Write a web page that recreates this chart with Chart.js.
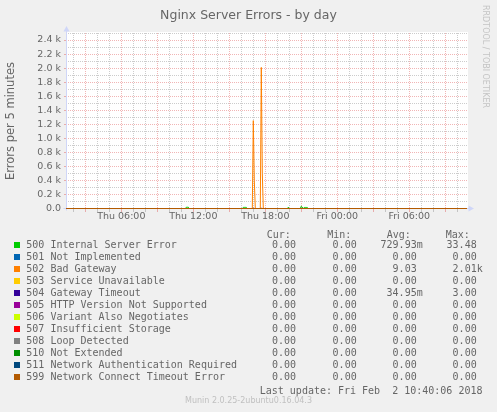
<!DOCTYPE html>
<html><head><meta charset="utf-8">
<script src="https://cdn.jsdelivr.net/npm/chart.js@4/dist/chart.umd.min.js"></script>
<style>
html,body{margin:0;padding:0;background:#F0F0F0;}
#wrap{position:relative;width:497px;height:412px;overflow:hidden;background:#F0F0F0;}
#c{position:absolute;left:0;top:0;}
.t{position:absolute;white-space:pre;color:#666;font-family:"DejaVu Sans Mono",monospace;font-size:10px;line-height:12px;}
.sw{position:absolute;width:6px;height:6px;}
#title{position:absolute;left:0;top:6.5px;width:497px;text-align:center;font-family:"DejaVu Sans",sans-serif;font-size:12.5px;line-height:15px;color:#666;}
#rrd{position:absolute;left:480px;top:5px;width:10px;writing-mode:vertical-rl;font-family:"DejaVu Sans",sans-serif;font-size:8px;line-height:10px;color:#c4c4c4;white-space:pre;}
#foot{position:absolute;left:0;top:396px;width:497px;text-align:center;font-family:"DejaVu Sans",sans-serif;font-size:8px;line-height:10px;color:#c0c0c0;}
</style></head><body>
<div id="wrap">
<canvas id="c" width="497" height="412" style="width:497px;height:412px"></canvas>
<div id="title">Nginx Server Errors - by day</div>
<div id="rrd">RRDTOOL / TOBI OETIKER</div>
<div id="foot">Munin 2.0.25-2ubuntu0.16.04.3</div>
</div>
<script>
// ---- data ----
const seriesNames = ["500 Internal Server Error","501 Not Implemented","502 Bad Gateway","503 Service Unavailable","504 Gateway Timeout","505 HTTP Version Not Supported","506 Variant Also Negotiates","507 Insufficient Storage","508 Loop Detected","510 Not Extended","511 Network Authentication Required","599 Network Connect Timeout Error"];
const seriesColors = ["#00CC00","#0066B3","#FF8000","#FFCC00","#330099","#990099","#CCFF00","#FF0000","#808080","#008F00","#00487D","#B35A00"];
const curValues = ["0.00 ","0.00 ","0.00 ","0.00 ","0.00 ","0.00 ","0.00 ","0.00 ","0.00 ","0.00 ","0.00 ","0.00 "];
const minValues = ["0.00 ","0.00 ","0.00 ","0.00 ","0.00 ","0.00 ","0.00 ","0.00 ","0.00 ","0.00 ","0.00 ","0.00 "];
const avgValues = ["729.93m","0.00 ","9.03 ","0.00 ","34.95m","0.00 ","0.00 ","0.00 ","0.00 ","0.00 ","0.00 ","0.00 "];
const maxValues = ["33.48 ","0.00 ","2.01k","0.00 ","3.00 ","0.00 ","0.00 ","0.00 ","0.00 ","0.00 ","0.00 ","0.00 "];
const lastUpdate = "Last update: Fri Feb  2 10:40:06 2018";

// time axis in minutes since Thu 00:00
const timeStart = 83.5, timeEnd = 2088.5;
const xLabelTimes = [360, 720, 1080, 1440, 1800];
const xLabelTexts = ["Thu 06:00","Thu 12:00","Thu 18:00","Fri 00:00","Fri 06:00"];
const yTickValues = [0,200,400,600,800,1000,1200,1400,1600,1800,2000,2200,2400];
const yTickTexts = ["0.0","0.2 k","0.4 k","0.6 k","0.8 k","1.0 k","1.2 k","1.4 k","1.6 k","1.8 k","2.0 k","2.2 k","2.4 k"];

// samples (time in minutes, value per 5 minutes)
const t500 = [83.5,680,685,690,695,700,965,970,975,980,985,990,1190,1195,1200,1255,1260,1265,1270,1275,1280,1285,1290,1295,2088.5];
const v500 = [0,0,18,18,18,0,0,16,16,16,16,0,0,18,0,0,33.48,20,0,15,15,15,15,0,0];
const t502 = [83.5,1015,1020,1025,1030,1055,1060,1065,1070,2088.5];
const v502 = [0,0,1252,400,0,0,2010,500,0,0];
const t504 = [83.5,1015,1020,1025,1055,1060,1065,1255,1260,1265,2088.5];
const v504 = [0,0,3,0,0,3,0,0,3,0,0];
const tZero = [83.5,2088.5];
const vZero = [0,0];

// ---- build ----
const samplePairs = {0:[t500,v500],2:[t502,v502],4:[t504,v504]};
function pts(i){const p=samplePairs[i]||[tZero,vZero];return p[0].map((t,k)=>({x:t,y:p[1][k]}));}
const datasets = seriesNames.map((n,i)=>({label:n,data:pts(i),borderColor:seriesColors[i],backgroundColor:seriesColors[i],borderWidth:1,pointRadius:0,tension:0,fill:false,order:seriesNames.length-i}));

const MGRID='rgba(222,79,79,0.42)', GRID='rgba(143,143,143,0.45)', AXIS='#CFD6F8';
const hourTicks=[]; for(let h=120;h<=timeEnd;h+=60) hourTicks.push(h);
const yAll=[]; for(let v=0;v<=2500;v+=100) yAll.push(v);
const yMinVal = -0.5/(175.5/2500);

const decor={id:'decor',
 beforeDraw(chart){const {ctx,chartArea:a}=chart;ctx.save();ctx.fillStyle='#fff';ctx.fillRect(a.left,a.top-1,a.right-a.left+1,a.bottom-a.top+0.5);ctx.restore();},
 beforeDatasetsDraw(chart){const {ctx,chartArea:a}=chart;ctx.save();ctx.strokeStyle=AXIS;ctx.fillStyle=AXIS;ctx.lineWidth=1;
  const bx=Math.round(a.left)+0.5, by=Math.round(a.bottom)-0.5;
  ctx.beginPath();ctx.moveTo(bx,by+2);ctx.lineTo(bx,a.top-2);ctx.stroke();
  ctx.beginPath();ctx.moveTo(bx-3,by);ctx.lineTo(a.right+2,by);ctx.stroke();
  ctx.beginPath();ctx.moveTo(bx,a.top-7);ctx.lineTo(bx+3,a.top-1.5);ctx.lineTo(bx-3,a.top-1.5);ctx.closePath();ctx.fill();
  ctx.beginPath();ctx.moveTo(a.right+7,by);ctx.lineTo(a.right+1.5,by-3);ctx.lineTo(a.right+1.5,by+3);ctx.closePath();ctx.fill();
  ctx.restore();}
};

new Chart(document.getElementById('c'),{
 type:'line',
 data:{datasets},
 plugins:[decor],
 options:{responsive:false,animation:false,
  layout:{padding:{left:0,top:33,right:30,bottom:183}},
  plugins:{legend:{display:false},tooltip:{enabled:false},title:{display:false}},
  scales:{
   x:{type:'linear',min:timeStart,max:timeEnd,
    afterBuildTicks:s=>{s.ticks=hourTicks.map(v=>({value:v}));},
    afterFit:s=>{s.height=20;},
    ticks:{autoSkip:false,maxRotation:0,minRotation:0,padding:-1,color:'#666',font:{family:'DejaVu Sans',size:9.5},
     callback:v=>{const k=xLabelTimes.indexOf(v);return k>=0?xLabelTexts[k]:'';}},
    grid:{color:c=>((c.tick&&c.tick.value%180===0)?MGRID:GRID),tickColor:c=>((c.tick&&c.tick.value%180===0)?MGRID:GRID),tickLength:3,tickBorderDash:[],drawTicks:true},
    border:{display:false,dash:[1,1]}
   },
   y:{type:'linear',min:yMinVal,max:2500,
    afterBuildTicks:s=>{s.ticks=yAll.map(v=>({value:v}));},
    afterFit:s=>{s.width=66;},
    ticks:{autoSkip:false,padding:3,color:'#666',font:{family:'DejaVu Sans',size:9.5},
     callback:v=>{const k=yTickValues.indexOf(v);return k>=0?yTickTexts[k]:'';}},
    grid:{color:c=>((c.tick&&c.tick.value%200===0)?MGRID:GRID),tickColor:c=>((c.tick&&c.tick.value%200===0)?MGRID:'rgba(0,0,0,0)'),tickLength:2,tickBorderDash:[],drawTicks:true},
    border:{display:false,dash:[1,1]},
    title:{display:true,text:'Errors per 5 minutes',color:'#666',font:{family:'DejaVu Sans',size:11.5},padding:{top:4,bottom:0}}
   }
  }
 }
});

// ---- legend (text) ----
const wrap=document.getElementById('wrap');
function addText(txt,style){const d=document.createElement('div');d.className='t';d.textContent=txt;Object.assign(d.style,style);wrap.appendChild(d);}
const colRight=[302,362.7,422.7,482.7];
const headLeft=[266.7,327.3,386.7,445.7];
["Cur:","Min:","Avg:","Max:"].forEach((h,k)=>addText(h,{left:headLeft[k]+'px',top:'229.2px'}));
seriesNames.forEach((n,i)=>{
 const cy=245+12*i;
 const sw=document.createElement('div');sw.className='sw';sw.style.left='14px';sw.style.top=(cy-3)+'px';sw.style.background=seriesColors[i];wrap.appendChild(sw);
 addText(n,{left:'26.3px',top:(cy-5.8)+'px'});
 [curValues,minValues,avgValues,maxValues].forEach((arr,k)=>addText(arr[i],{right:(497-colRight[k])+'px',top:(cy-5.8)+'px'}));
});
addText(lastUpdate,{right:'14.5px',top:'384.9px'});
</script>
</body></html>
